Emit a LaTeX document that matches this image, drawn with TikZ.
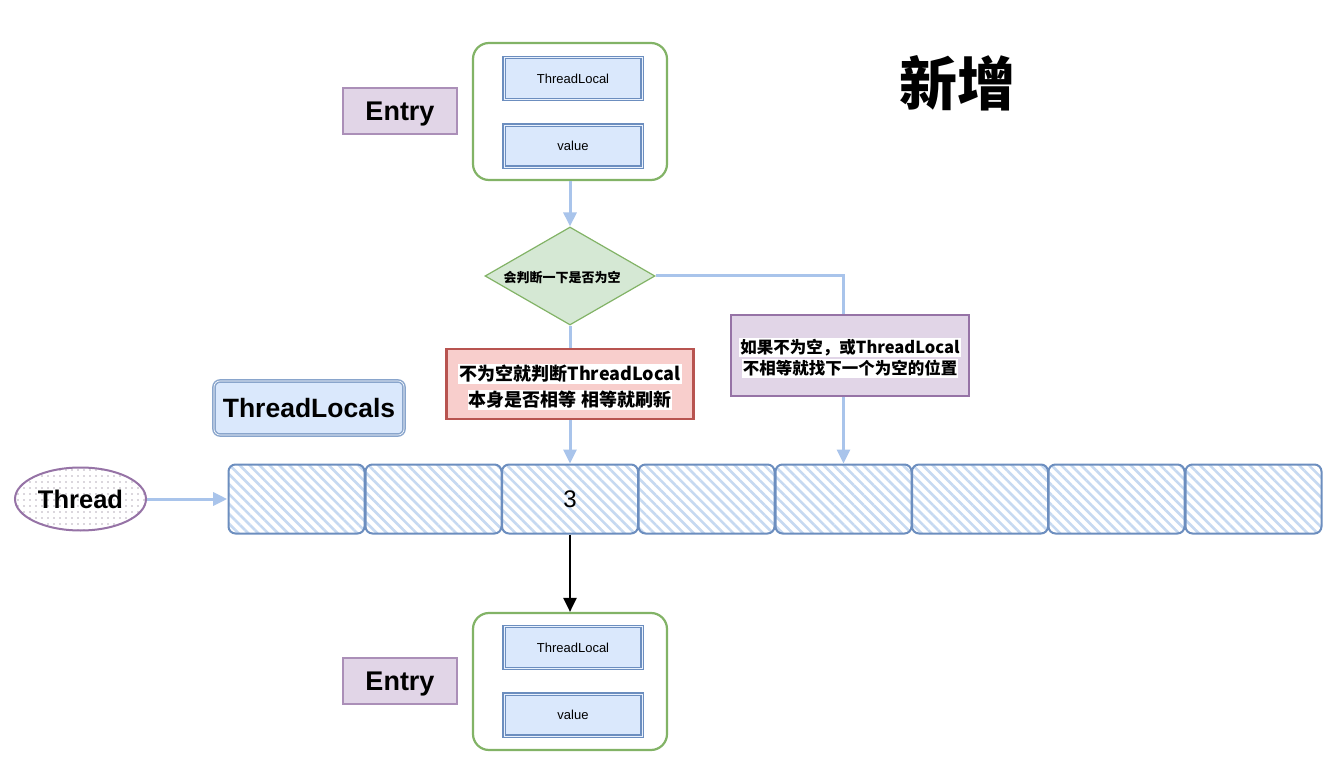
\documentclass[tikz,border=0pt]{standalone}
\usepackage{fontspec}
\setmainfont{Liberation Sans}
\newfontfamily\cjk{Noto Sans CJK SC}
\usetikzlibrary{shapes.geometric,patterns.meta,arrows.meta}
\definecolor{bfill}{HTML}{DAE8FC}
\definecolor{bdraw}{HTML}{6C8EBF}
\definecolor{pfill}{HTML}{E1D5E7}
\definecolor{pdraw}{HTML}{9673A6}
\definecolor{gfill}{HTML}{D5E8D4}
\definecolor{gdraw}{HTML}{82B366}
\definecolor{rfill}{HTML}{F8CECC}
\definecolor{rdraw}{HTML}{B85450}
\definecolor{conncol}{HTML}{A9C4EB}
\definecolor{hatchcol}{HTML}{C6D9F1}
\tikzset{
  entrybox/.style={draw=pdraw!80, fill=pfill, line width=1.2pt, minimum width=114pt, minimum height=46pt, inner sep=0pt, text height=19pt, text depth=0pt, font=\bfseries\fontsize{27}{30}\selectfont},
  greenbox/.style={draw=gdraw, line width=2.2pt, rounded corners=16pt, minimum width=194pt, minimum height=137pt, inner sep=0pt},
  fieldbox/.style={draw=bdraw, fill=bfill, line width=1.3pt, double=bfill!60!white, double distance=0.8pt, minimum width=138pt, minimum height=42pt, inner sep=0pt, font=\fontsize{13}{15}\selectfont},
  conn/.style={draw=conncol, line width=3pt},
  connarrow/.style={conn, -{Triangle[width=13pt,length=14pt]}},
  cellbox/.style={draw=bdraw, line width=2pt, rounded corners=7pt, minimum width=136pt, minimum height=69pt, inner sep=0pt,
    pattern={Lines[angle=-45,distance=7pt,line width=2.6pt]}, pattern color=hatchcol, font=\fontsize{24}{28}\selectfont},
  hl/.style={fill=white, inner sep=1pt, font=\cjk\bfseries\fontsize{18}{21}\selectfont},
  hlp/.style={fill=white, inner sep=1pt, font=\cjk\bfseries\fontsize{16.5}{19}\selectfont},
}
\begin{document}
\begin{tikzpicture}[x=1pt,y=-1pt]
\useasboundingbox (0,0) rectangle (1342,770);
\fill[white] (0,0) rectangle (1342,770);

% top entry
\node[greenbox] (g1) at (570,111.5) {};
\node[fieldbox] (tl1) at (573,78.5) {ThreadLocal};
\node[fieldbox] (val1) at (573,146) {value};
\node[entrybox] (entry1) at (400,111) {Entry};

% title
\node[font=\cjk\bfseries\fontsize{58}{64}\selectfont] (title) at (957,83) {新增};

% diamond
\node[diamond, draw=gdraw, fill=gfill, line width=1.2pt, minimum width=170pt, minimum height=98pt, inner sep=0pt] (d) at (570,276) {};
\node[font=\cjk\bfseries\fontsize{13}{15}\selectfont] (dtext) at (562,278) {会判断一下是否为空};

% red box
\node[draw=rdraw, fill=rfill, line width=2.2pt, minimum width=247pt, minimum height=70pt, inner sep=0pt] (rbox) at (570,384) {};
\node[hl] (r1) at (570,374) {不为空就判断ThreadLocal};
\node[hl] (r2) at (570,400) {本身是否相等 相等就刷新};

% purple box
\node[draw=pdraw, fill=pfill, line width=1.8pt, minimum width=238pt, minimum height=81pt, inner sep=0pt] (pbox) at (850,355.5) {};
\node[hlp] (p1) at (850,347.5) {如果不为空，或ThreadLocal};
\node[hlp] (p2) at (850,368.5) {不相等就找下一个为空的位置};

% ThreadLocals label
\node[draw=bdraw!80, fill=bfill, line width=1.5pt, double=white, double distance=0.6pt, rounded corners=6pt, minimum width=190pt, minimum height=54pt, inner sep=0pt, text height=19pt, text depth=0pt, font=\bfseries\fontsize{26.5}{30}\selectfont] (tls) at (309,408) {ThreadLocals};

% Thread ellipse
\node[ellipse, draw=pdraw, line width=2pt, minimum width=131pt, minimum height=63pt, inner sep=0pt, text height=18pt, text depth=0pt,
  pattern={Dots[distance=6pt,radius=0.9pt]}, pattern color=pdraw!35!gray!60, font=\bfseries\fontsize{25.5}{28}\selectfont] (thread) at (80.5,499) {Thread};

% array cells
\node[cellbox] (c1) at (296.5,499) {};
\node[cellbox] (c2) at (433.5,499) {};
\node[cellbox] (c3) at (570,499) {3};
\node[cellbox] (c4) at (706.5,499) {};
\node[cellbox] (c5) at (843.5,499) {};
\node[cellbox] (c6) at (980,499) {};
\node[cellbox] (c7) at (1116.5,499) {};
\node[cellbox] (c8) at (1253.5,499) {};

% bottom entry
\node[greenbox] (g2) at (570,681.5) {};
\node[fieldbox] (tl2) at (573,647.5) {ThreadLocal};
\node[fieldbox] (val2) at (573,715) {value};
\node[entrybox] (entry2) at (400,681) {Entry};

% connectors
\draw[connarrow] (g1.south) -- (d.north);
\draw[conn] (d.east) -| (pbox.north -| c5.north);
\draw[connarrow] (pbox.south -| c5.north) -- (c5.north);
\draw[conn] (d.south) -- (rbox.north);
\draw[connarrow] (rbox.south) -- (c3.north);
\draw[connarrow] (thread.east) -- (c1.west);
\draw[black, line width=2.2pt, -{Triangle[width=13pt,length=14pt]}] (c3.south) -- (g2.north);
\end{tikzpicture}
\end{document}
